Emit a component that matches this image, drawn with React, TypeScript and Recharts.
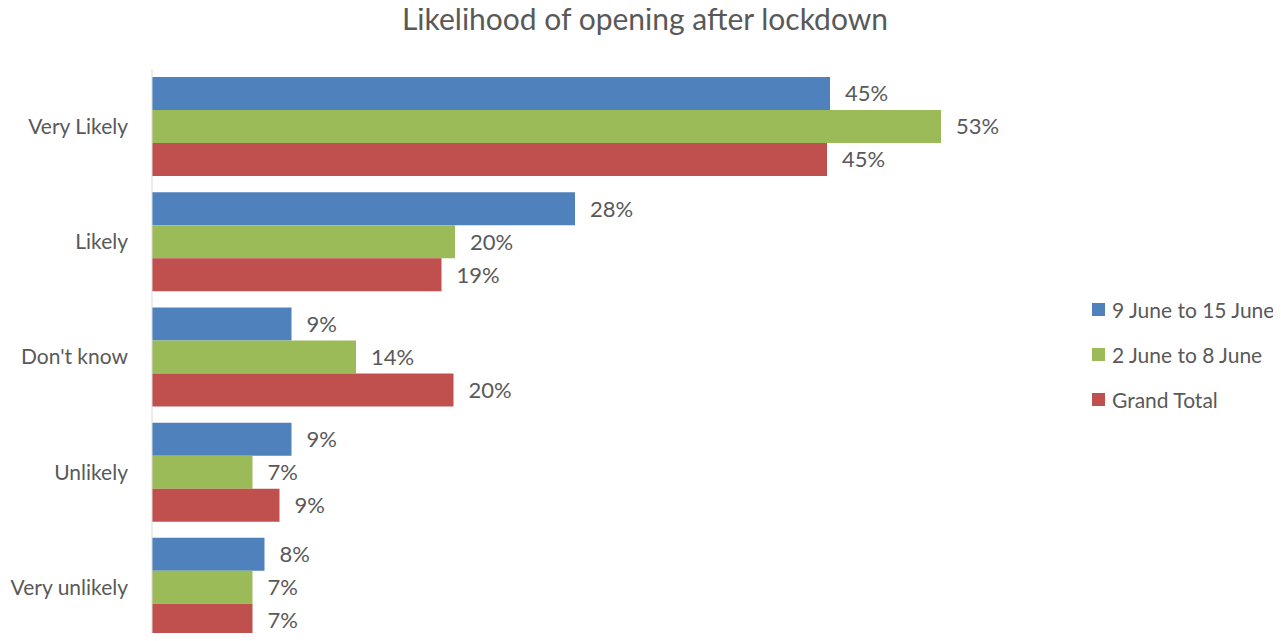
import { Bar, BarChart, LabelList, XAxis, YAxis } from "recharts";

const categories = ["Very Likely", "Likely", "Don't know", "Unlikely", "Very unlikely"];
const week9to15 = [0.452, 0.282, 0.093, 0.093, 0.075];
const week2to8 = [0.526, 0.202, 0.136, 0.067, 0.067];
const grandTotal = [0.45, 0.193, 0.201, 0.085, 0.067];

const seriesNames = ["9 June to 15 June", "2 June to 8 June", "Grand Total"];
const colors = ["#4F81BD", "#9BBB59", "#C0504D"];

const data = categories.map((name, i) => ({
  name,
  a: week9to15[i],
  b: week2to8[i],
  c: grandTotal[i],
}));

const font = "Lato, 'Open Sans', sans-serif";
const pct = (v: any) => `${Math.round(Number(v) * 100)}%`;

export default function App() {
  return (
    <div style={{ position: "relative", margin: -8, width: 1281, height: 641, overflow: "hidden", background: "#fff" }}>
      <div
        style={{
          position: "absolute",
          top: 0,
          left: 0,
          width: 1290,
          textAlign: "center",
          fontFamily: font,
          fontSize: 30,
          color: "#595959",
        }}
      >
        Likelihood of opening after lockdown
      </div>
      <BarChart
        width={1281}
        height={645}
        data={data}
        layout="vertical"
        margin={{ top: 69, right: 229, bottom: 0, left: 0 }}
        barCategoryGap="7%"
        barGap={0}
      >
        <XAxis type="number" domain={[0, 0.6]} hide />
        <YAxis
          type="category"
          dataKey="name"
          width={152}
          axisLine={{ stroke: "#d9d9d9" }}
          tickLine={false}
          tickMargin={18}
          tick={{ fontFamily: font, fontSize: 21, fill: "#595959" }}
        />
        {["a", "b", "c"].map((k, i) => (
          <Bar key={k} dataKey={k} name={seriesNames[i]} fill={colors[i]} isAnimationActive={false}>
            <LabelList
              dataKey={k}
              position="right"
              offset={15}
              formatter={pct}
              style={{ fontFamily: font, fontSize: 22, fill: "#595959" }}
            />
          </Bar>
        ))}
      </BarChart>
      <div
        style={{
          position: "absolute",
          left: 1092,
          top: 287,
          fontFamily: font,
          fontSize: 21,
          color: "#595959",
        }}
      >
        {seriesNames.map((s, i) => (
          <div key={s} style={{ display: "flex", alignItems: "center", height: 45, whiteSpace: "nowrap" }}>
            <span style={{ width: 13, height: 13, flexShrink: 0, background: colors[i], marginRight: 7 }} />
            <span>{s}</span>
          </div>
        ))}
      </div>
    </div>
  );
}
